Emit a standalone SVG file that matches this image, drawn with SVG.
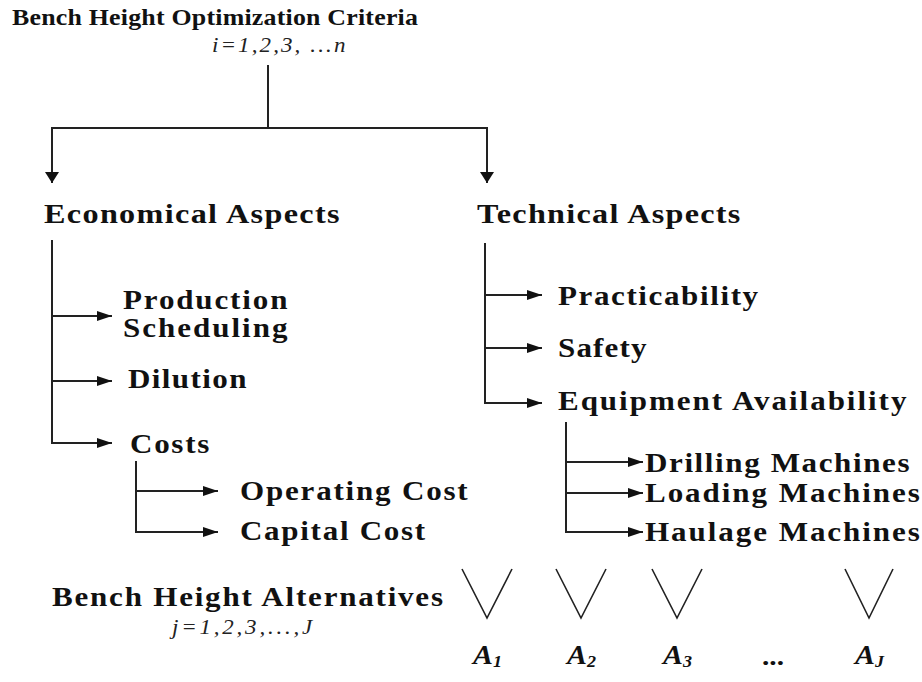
<svg xmlns="http://www.w3.org/2000/svg" width="922" height="682" viewBox="0 0 922 682">
  <defs>
    <marker id="arrow" markerUnits="userSpaceOnUse" viewBox="0 0 15 10" refX="15" refY="5" markerWidth="15" markerHeight="10" orient="auto">
      <path d="M0,0 L15,5 L0,10 z" fill="#111"/>
    </marker>
    <marker id="arrowDown" markerUnits="userSpaceOnUse" viewBox="0 0 11 14" refX="11" refY="7" markerWidth="11" markerHeight="14" orient="auto">
      <path d="M0,0 L11,7 L0,14 z" fill="#111"/>
    </marker>
  </defs>
  <style>
    .t { font-family: "Liberation Serif", "Times New Roman", serif; font-weight: bold; fill: #111; }
    .h { font-size: 28px; }
    .n { font-size: 27px; }
    .m { font-family: "Liberation Serif", "Times New Roman", serif; font-style: italic; fill: #222; }
    .a { font-family: "Liberation Serif", "Times New Roman", serif; font-style: italic; font-weight: bold; font-size: 28px; fill: #111; }
    .ln { stroke: #222; stroke-width: 2; fill: none; }
    .arr { stroke: #222; stroke-width: 2; fill: none; marker-end: url(#arrow); }
    .arrd { stroke: #222; stroke-width: 2; fill: none; marker-end: url(#arrowDown); }
    .v { stroke: #222; stroke-width: 1.6; fill: none; }
  </style>
  <rect width="922" height="682" fill="#ffffff"/>

  <!-- labels are set in a widened serif: each one is scaled 1.15 horizontally -->

  <!-- root -->
  <g id="root">
    <g transform="translate(12,25) scale(1.15,1)">
      <text class="t" font-size="22.5" textLength="353" lengthAdjust="spacing">Bench Height Optimization Criteria</text>
    </g>
    <g transform="translate(212,52) scale(1.15,1)">
      <text class="m" font-size="20" textLength="116" lengthAdjust="spacing">i=1,2,3, ...n</text>
    </g>
  </g>

  <!-- first level -->
  <g id="economical" transform="translate(44,223) scale(1.15,1)">
    <text class="t h" textLength="257" lengthAdjust="spacing">Economical Aspects</text>
  </g>
  <g id="technical" transform="translate(477,223) scale(1.15,1)">
    <text class="t h" textLength="229" lengthAdjust="spacing">Technical Aspects</text>
  </g>

  <!-- economical branch -->
  <g id="production-scheduling" transform="translate(123,0) scale(1.15,1)">
    <text class="t n" y="309" textLength="143" lengthAdjust="spacing">Production</text>
    <text class="t n" y="337" textLength="143" lengthAdjust="spacing">Scheduling</text>
  </g>
  <g id="dilution" transform="translate(128,388) scale(1.15,1)">
    <text class="t n" textLength="103" lengthAdjust="spacing">Dilution</text>
  </g>
  <g id="costs" transform="translate(130,453) scale(1.15,1)">
    <text class="t n" textLength="69" lengthAdjust="spacing">Costs</text>
  </g>
  <g id="operating-cost" transform="translate(240,500) scale(1.15,1)">
    <text class="t n" textLength="198" lengthAdjust="spacing">Operating Cost</text>
  </g>
  <g id="capital-cost" transform="translate(240,540) scale(1.15,1)">
    <text class="t n" textLength="161" lengthAdjust="spacing">Capital Cost</text>
  </g>

  <!-- technical branch -->
  <g id="practicability" transform="translate(558,305) scale(1.15,1)">
    <text class="t n" textLength="174" lengthAdjust="spacing">Practicability</text>
  </g>
  <g id="safety" transform="translate(558,357) scale(1.15,1)">
    <text class="t n" textLength="77" lengthAdjust="spacing">Safety</text>
  </g>
  <g id="equipment-availability" transform="translate(558,410) scale(1.15,1)">
    <text class="t n" textLength="303" lengthAdjust="spacing">Equipment Availability</text>
  </g>
  <g id="drilling-machines" transform="translate(645,472) scale(1.15,1)">
    <text class="t n" textLength="230" lengthAdjust="spacing">Drilling Machines</text>
  </g>
  <g id="loading-machines" transform="translate(645,502) scale(1.15,1)">
    <text class="t n" textLength="239" lengthAdjust="spacing">Loading Machines</text>
  </g>
  <g id="haulage-machines" transform="translate(645,541) scale(1.15,1)">
    <text class="t n" textLength="239" lengthAdjust="spacing">Haulage Machines</text>
  </g>

  <!-- alternatives -->
  <g id="alternatives">
    <g transform="translate(52,606) scale(1.15,1)">
      <text class="t" font-size="27" textLength="340" lengthAdjust="spacing">Bench Height Alternatives</text>
    </g>
    <g transform="translate(172,634) scale(1.15,1)">
      <text class="m" font-size="20" textLength="122" lengthAdjust="spacing">j=1,2,3,...,J</text>
    </g>
  </g>
  <g id="alt-1">
    <path class="v" d="M462,569 L487,618 L512,569"/>
    <text class="a" x="473" y="664" textLength="29" lengthAdjust="spacingAndGlyphs">A<tspan font-size="17" dy="3">1</tspan></text>
  </g>
  <g id="alt-2">
    <path class="v" d="M556,569 L581,618 L606,569"/>
    <text class="a" x="567" y="664" textLength="29" lengthAdjust="spacingAndGlyphs">A<tspan font-size="17" dy="3">2</tspan></text>
  </g>
  <g id="alt-3">
    <path class="v" d="M652,569 L677,618 L702,569"/>
    <text class="a" x="663" y="664" textLength="29" lengthAdjust="spacingAndGlyphs">A<tspan font-size="17" dy="3">3</tspan></text>
  </g>
  <g id="alt-dots">
    <text class="t" x="762" y="665" font-size="25" textLength="22" lengthAdjust="spacingAndGlyphs">...</text>
  </g>
  <g id="alt-j">
    <path class="v" d="M845,569 L869,618 L893,569"/>
    <text class="a" x="855" y="664" textLength="29" lengthAdjust="spacingAndGlyphs">A<tspan font-size="17" dy="3">J</tspan></text>
  </g>

  <!-- connectors -->
  <g id="connectors">
    <path class="ln" d="M268,65 V128 M52,128 H488"/>
    <path class="arrd" d="M52,127 V183"/>
    <path class="arrd" d="M487,127 V183"/>

    <path class="ln" d="M52,240 V443"/>
    <path class="arr" d="M51,316 H112"/>
    <path class="arr" d="M51,381 H112"/>
    <path class="arr" d="M51,443 H112"/>

    <path class="ln" d="M136,461 V532"/>
    <path class="arr" d="M135,491 H218"/>
    <path class="arr" d="M135,532 H218"/>

    <path class="ln" d="M485,243 V403"/>
    <path class="arr" d="M484,295 H542"/>
    <path class="arr" d="M484,348 H542"/>
    <path class="arr" d="M484,403 H542"/>

    <path class="ln" d="M566,422 V532"/>
    <path class="arr" d="M565,462 H643"/>
    <path class="arr" d="M565,493 H643"/>
    <path class="arr" d="M565,532 H643"/>
  </g>
</svg>
